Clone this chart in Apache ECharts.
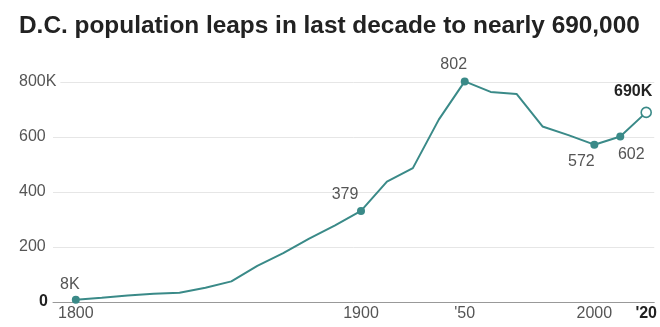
<!DOCTYPE html>
<html>
<head>
    <meta charset="utf-8">
    <title>D.C. population</title>
    <script src="https://cdn.jsdelivr.net/npm/echarts@6/dist/echarts.min.js"></script>
    <style>
        html, body { margin: 0; padding: 0; background: #fff; }
    </style>
</head>
<body>
    <div id="chart" style="width: 660px;height:327px;"></div>
    <script type="text/javascript">
        // census years and population (thousands)
        var years = [1800, 1810, 1820, 1830, 1840, 1850, 1860, 1870, 1880, 1890, 1900, 1910,
                     1920, 1930, 1940, 1950, 1960, 1970, 1980, 1990, 2000, 2010, 2020];
        var population = [8.1, 15.5, 23.3, 30.3, 33.7, 51.7, 75.1, 131.7, 177.6, 230.4, 278.7, 331.1,
                          437.6, 486.9, 663.1, 802.2, 764.0, 756.5, 638.3, 606.9, 572.1, 601.7, 689.5];

        // points that get a dot and a label
        var labelYears = [1800, 1910, 1950, 2000, 2010, 2020];
        var labelTexts = ['8K', '379', '802', '572', '602', '690K'];

        // x axis ticks
        var tickYears = [1800, 1910, 1950, 2000, 2020];
        var tickLabels = ['1800', '1900', "'50", '2000', "'20"];

        var yTicks = [0, 200, 400, 600, 800];
        var yTickLabels = ['0', '200', '400', '600', '800K'];

        var teal = '#3a8a88';
        var labelOffsets = {
            1800: [-6, -15],
            1910: [-16, -16],
            1950: [-11, -17],
            2000: [-13, 17],
            2010: [11, 18],
            2020: [-13, -21]
        };

        var seriesData = years.map(function (y, i) {
            var k = labelYears.indexOf(y);
            if (k < 0) {
                return { value: [y, population[i]], symbol: 'none' };
            }
            var last = y === 2020;
            return {
                value: [y, population[i]],
                symbol: 'circle',
                symbolSize: last ? 10 : 8,
                itemStyle: last ? { color: '#fff', borderColor: teal, borderWidth: 1.6 } : { color: teal },
                label: {
                    show: true,
                    position: 'inside',
                    offset: labelOffsets[y],
                    formatter: labelTexts[k],
                    fontFamily: 'Liberation Sans',
                    fontSize: 16,
                    fontWeight: last ? 'bold' : 'normal',
                    color: last ? '#222' : '#555'
                }
            };
        });

        var chart = echarts.init(document.getElementById('chart'));
        chart.setOption({
            animation: false,
            title: {
                text: 'D.C. population leaps in last decade to nearly 690,000',
                left: 14,
                top: 9,
                textStyle: {
                    fontFamily: 'Liberation Sans',
                    fontSize: 24.4,
                    fontWeight: 'bold',
                    color: '#222'
                }
            },
            grid: { left: 53, right: 3, top: 82, bottom: 25, containLabel: false },
            xAxis: {
                type: 'value',
                min: 1791.2,
                max: 2023.1,
                splitLine: { show: false },
                axisTick: { show: false },
                axisLine: { lineStyle: { color: '#999', width: 1 } },
                axisLabel: {
                    customValues: tickYears,
                    margin: 4,
                    fontFamily: 'Liberation Sans',
                    fontSize: 16,
                    color: '#555',
                    formatter: function (v) {
                        var k = tickYears.indexOf(v);
                        if (k < 0) return '';
                        return v === 2020 ? '{b|' + tickLabels[k] + '}' : tickLabels[k];
                    },
                    rich: {
                        b: { fontFamily: 'Liberation Sans', fontSize: 16, fontWeight: 'bold', color: '#222' }
                    }
                }
            },
            yAxis: {
                type: 'value',
                min: 0,
                max: 800,
                interval: 200,
                axisLine: { show: false },
                axisTick: { show: false },
                splitLine: { lineStyle: { color: '#e6e6e6', width: 1 } },
                axisLabel: {
                    align: 'left',
                    margin: 34,
                    fontFamily: 'Liberation Sans',
                    fontSize: 16,
                    color: '#555',
                    backgroundColor: '#fff',
                    padding: [0, 4, 0, 0],
                    formatter: function (v) {
                        var k = yTicks.indexOf(v);
                        if (k < 0) return '';
                        return v === 0 ? '{z|' + yTickLabels[k] + '}' : yTickLabels[k];
                    },
                    rich: {
                        z: { width: 29, align: 'right', fontFamily: 'Liberation Sans', fontSize: 16, fontWeight: 'bold', color: '#222' }
                    }
                }
            },
            series: [{
                type: 'line',
                data: seriesData,
                clip: false,
                lineStyle: { color: teal, width: 2 },
                itemStyle: { color: teal },
                emphasis: { disabled: true }
            }]
        });
    </script>
</body>
</html>
